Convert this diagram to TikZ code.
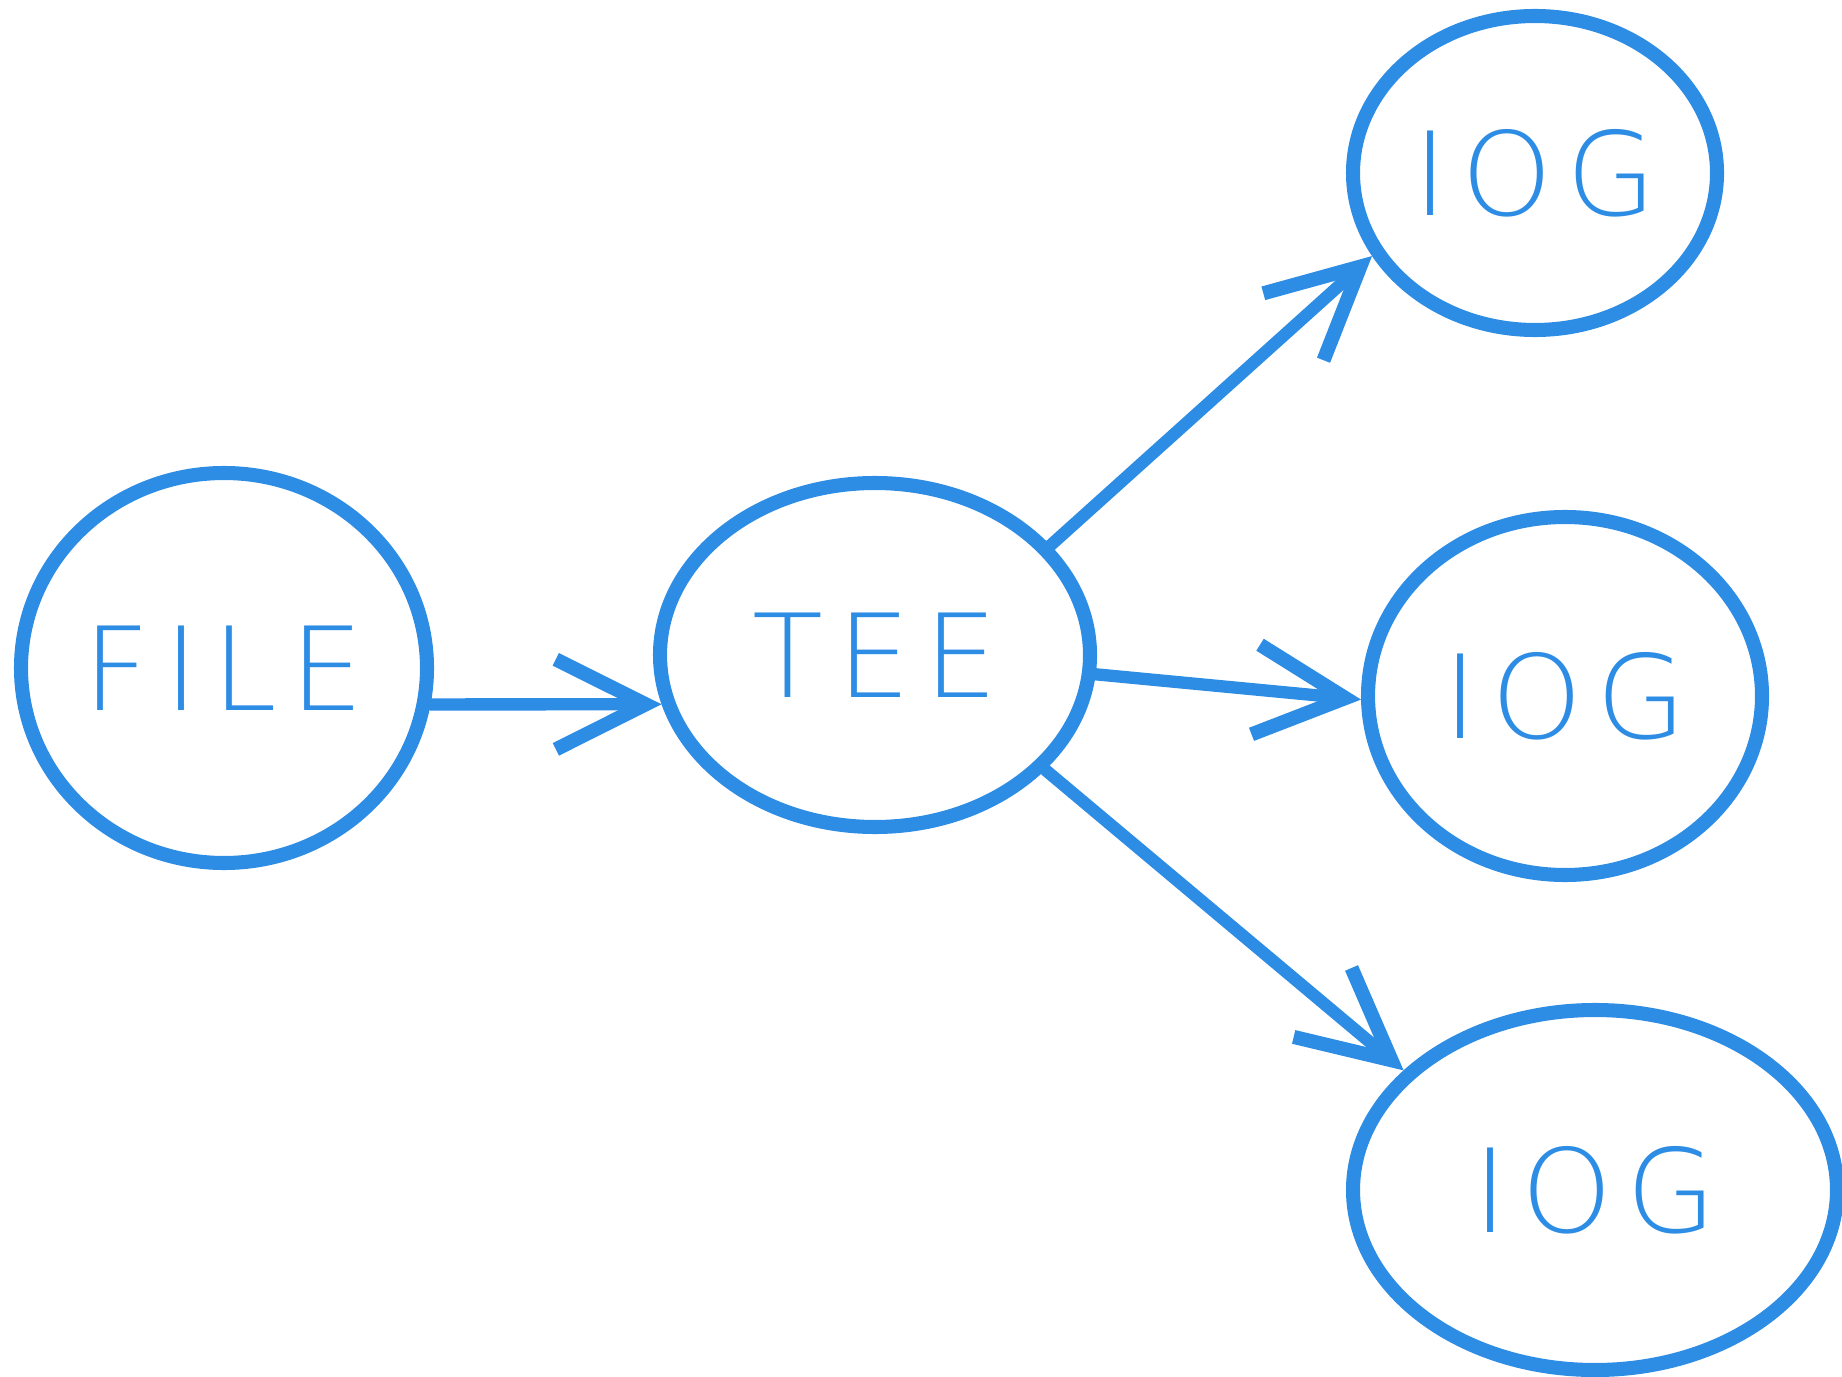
\documentclass[tikz,border=0pt]{standalone}
\usepackage{fontspec}
\newfontfamily\crayonfont[LetterSpace=12]{DejaVu Sans ExtraLight}
\usetikzlibrary{shapes.geometric,arrows.meta}
\definecolor{crayon}{RGB}{45,140,228}
\begin{document}
\begin{tikzpicture}[
        blob/.style={draw=crayon,line width=4pt,ellipse,inner sep=0pt,
            text=crayon,font=\crayonfont\fontsize{33}{40}\selectfont},
        arr/.style={draw=crayon,line width=3.5pt,line cap=round,
            -{Straight Barb[length=9mm,width=9mm,line width=4pt]}}]
    \useasboundingbox (0,0) rectangle (18.42,13.76);
    \node[blob,minimum width=4.06cm,minimum height=3.9cm] (file) at (2.24,7.08) {FILE};
    \node[blob,minimum width=4.3cm,minimum height=3.44cm] (tee) at (8.75,7.21) {TEE};
    \node[blob,minimum width=3.64cm,minimum height=3.14cm] (logtop) at (15.35,12.03) {IOG};
    \node[blob,minimum width=3.94cm,minimum height=3.58cm] (logmid) at (15.65,6.80) {IOG};
    \node[blob,minimum width=4.84cm,minimum height=3.6cm] (logbot) at (15.95,1.86) {IOG};
    % connectors
    \draw[arr] (file.-10.5) -- (tee.193.7);
    \draw[arr] (tee.32) -- (logtop.207);
    \draw[arr] (tee.-5) -- (logmid.181);
    \draw[arr] (tee.-34) -- (logbot.148);
\end{tikzpicture}
\end{document}
